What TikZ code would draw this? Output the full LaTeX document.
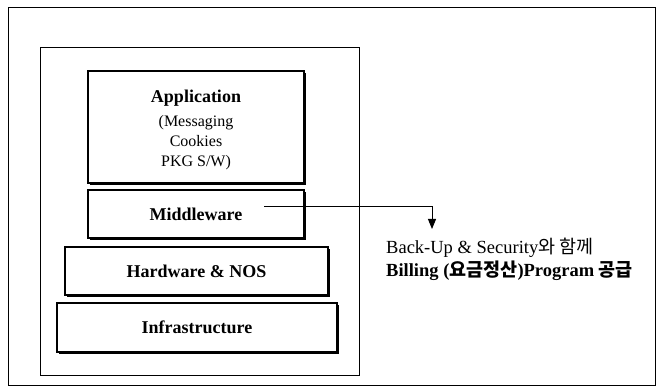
\documentclass[tikz,border=0pt]{standalone}
\usepackage{fontspec}
\setmainfont{Liberation Serif}
\newfontfamily\kr{Noto Sans CJK KR}
\usetikzlibrary{arrows.meta,shadows}
\tikzset{
  frame/.style={draw=black, line width=0.9pt},
  layer/.style={draw=black, fill=white, line width=1.1pt, inner sep=0pt,
    font=\fontsize{18}{20}\selectfont\bfseries, align=center,
    drop shadow={shadow xshift=2.2pt, shadow yshift=-2.2pt, fill=black, opacity=1}},
  conn/.style={draw=black, line width=0.9pt, -{Triangle[length=10pt,width=8pt]}},
  note/.style={anchor=north west, inner sep=0pt, align=left,
    font=\fontsize{18.5}{23}\selectfont}
}
\begin{document}
\begin{tikzpicture}[x=1pt,y=-1pt]
\useasboundingbox (0,0) rectangle (657,387);
\fill[white] (0,0) rectangle (657,387);
\draw[frame] (8,7) rectangle (655.5,385);
\draw[frame] (40,47) rectangle (359,375);
\node[layer, minimum width=216pt, minimum height=112pt] (app) at (196,127) {};
\node[font=\fontsize{18}{20}\selectfont\bfseries] (apptitle) at (196,98) {Application};
\node[font=\fontsize{16}{20}\selectfont, align=center, anchor=north] (appsub) at (196,112)
  {(Messaging\\Cookies\\PKG S/W)};
\node[layer, minimum width=216pt, minimum height=48pt] (mw) at (196,214) {Middleware};
\node[layer, minimum width=263pt, minimum height=48pt] (hw) at (196.5,271) {Hardware \& NOS};
\node[layer, minimum width=280pt, minimum height=49pt] (infra) at (197,327.5) {Infrastructure};
\coordinate (start) at (264,206);
\coordinate (tip) at (432,229);
\node[note] (txt) at (386,238)
  {Back-Up \& Security{\kr 와 함께}\\
   \textbf{Billing ({\kr 요금정산})Program {\kr 공급}}};
\draw[conn] (start) -| (tip);
\end{tikzpicture}
\end{document}
